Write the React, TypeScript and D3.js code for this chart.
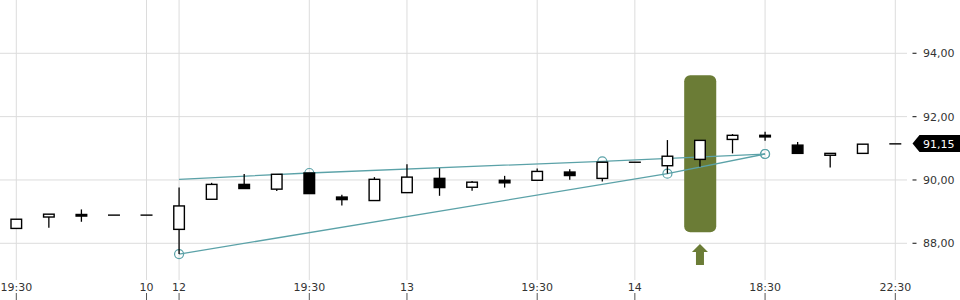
import React from "react";
import * as d3 from "d3";

const labels = ["19:30", "", "", "", "10", "12", "", "", "", "19:30", "", "", "13", "", "", "", "19:30", "", "", "14", "", "", "", "18:30", "", "", "", "22:30"];
const opens = [88.47, 88.83, 88.91, 88.89, 88.89, 88.44, 89.39, 89.86, 89.71, 90.22, 89.46, 89.35, 89.6, 90.05, 89.77, 89.99, 89.99, 90.25, 90.05, 90.56, 90.45, 90.65, 91.28, 91.41, 91.1, 90.78, 90.84, 91.14];
const highs = [88.76, 88.92, 89.07, 88.89, 88.89, 89.76, 89.91, 90.19, 90.18, 90.22, 89.53, 90.09, 90.5, 90.37, 89.97, 90.13, 90.36, 90.34, 90.56, 90.56, 91.26, 91.25, 91.45, 91.52, 91.2, 90.84, 91.13, 91.14];
const lows = [88.47, 88.49, 88.68, 88.89, 88.89, 87.66, 89.39, 89.73, 89.65, 89.57, 89.19, 89.35, 89.6, 89.5, 89.66, 89.76, 89.99, 90.01, 89.95, 90.56, 90.2, 90.42, 90.84, 91.24, 90.84, 90.39, 90.84, 91.14];
const closes = [88.76, 88.92, 88.86, 88.89, 88.89, 89.18, 89.86, 89.73, 90.18, 89.57, 89.38, 90.02, 90.09, 89.76, 89.93, 89.91, 90.27, 90.14, 90.56, 90.56, 90.75, 91.25, 91.41, 91.36, 90.84, 90.84, 91.13, 91.14];

const yTicks = [88, 90, 92, 94];
const lastPrice = 91.15;

const upperLineIdx = [5, 9, 18, 23];
const upperLineVal = [90.02, 90.22, 90.59, 90.82];
const upperCircles = [false, true, true, true];
const lowerLineIdx = [5, 20, 23];
const lowerLineVal = [87.66, 90.2, 90.82];

const signalIdx = 21;

const W = 960;
const H = 300;
const fmt = (v: number) => v.toFixed(2).replace(".", ",");

export default function App() {
  const idx = d3.range(opens.length);
  const x = d3.scalePoint<number>().domain(idx).range([16.3, 895.3]);
  const y = d3.scaleLinear().domain([88, 94]).range([243.3, 53.3]);
  const step = x.step();
  const bw = 10.6;
  const lineGen = d3
    .line<[number, number]>()
    .x((d) => x(d[0])!)
    .y((d) => y(d[1]));
  const upperPts: [number, number][] = upperLineIdx.map((d, i) => [d, upperLineVal[i]]);
  const lowerPts: [number, number][] = lowerLineIdx.map((d, i) => [d, lowerLineVal[i]]);
  const teal = "#5ba2a8";
  const green = "#6b7c36";
  const sx = x(signalIdx)!;
  const py = y(lastPrice);

  return (
    <div style={{ position: "absolute", left: 0, top: 0 }}>
      <svg width={W} height={H} style={{ display: "block", fontFamily: "'DejaVu Sans', sans-serif" }}>
        <rect x={0} y={0} width={W} height={H} fill="#fff" />
        {/* grid */}
        {yTicks.map((t) => (
          <line key={"h" + t} x1={0} x2={907} y1={y(t)} y2={y(t)} stroke="#dcdcdc" strokeWidth={1} />
        ))}
        {idx
          .filter((i) => labels[i] !== "")
          .map((i) => (
            <g key={"v" + i}>
              <line x1={x(i)} x2={x(i)} y1={0} y2={280} stroke="#dcdcdc" strokeWidth={1} />
              <line x1={x(i)} x2={x(i)} y1={293} y2={300} stroke="#555" strokeWidth={1} />
              <text x={x(i)} y={291} textAnchor="middle" fontSize={11} fill="#333">
                {labels[i]}
              </text>
            </g>
          ))}
        {/* y axis labels */}
        {yTicks.map((t) => (
          <g key={"yl" + t}>
            <line x1={912.5} x2={916.5} y1={y(t)} y2={y(t)} stroke="#333" strokeWidth={1.2} />
            <text x={923} y={y(t) + 4} fontSize={11} fill="#333">
              {fmt(t)}
            </text>
          </g>
        ))}
        {/* signal box */}
        <rect x={sx - step / 2 + 0.5} y={75.3} width={step - 0.5} height={157} rx={6} ry={6} fill={green} />
        <path
          d={`M${sx},244 L${sx + 8},252 L${sx + 4},252 L${sx + 4},265 L${sx - 4},265 L${sx - 4},252 L${sx - 8},252 Z`}
          fill={green}
        />
        {/* trend lines */}
        <path d={lineGen(upperPts)!} fill="none" stroke={teal} strokeWidth={1.3} />
        <path d={lineGen(lowerPts)!} fill="none" stroke={teal} strokeWidth={1.3} />
        {upperPts.map((p, i) =>
          upperCircles[i] ? (
            <circle key={"uc" + i} cx={x(p[0])} cy={y(p[1])} r={4.5} fill="none" stroke={teal} strokeWidth={1.2} />
          ) : null
        )}
        {lowerPts.map((p, i) => (
          <circle key={"lc" + i} cx={x(p[0])} cy={y(p[1])} r={4.5} fill="none" stroke={teal} strokeWidth={1.2} />
        ))}
        {/* candles */}
        {idx.map((i) => {
          const cx = x(i)!;
          const o = opens[i];
          const c = closes[i];
          const up = c >= o;
          const top = y(Math.max(o, c));
          const bot = y(Math.min(o, c));
          const flat = bot - top < 0.5;
          return (
            <g key={"c" + i}>
              {highs[i] !== lows[i] && (
                <line x1={cx} x2={cx} y1={y(highs[i])} y2={y(lows[i])} stroke="#000" strokeWidth={1.3} />
              )}
              {flat ? (
                <line x1={cx - bw / 2 - 0.7} x2={cx + bw / 2 + 0.7} y1={top} y2={top} stroke="#000" strokeWidth={1.4} />
              ) : (
                <rect
                  x={cx - bw / 2}
                  y={top}
                  width={bw}
                  height={bot - top}
                  fill={up ? "#fff" : "#000"}
                  stroke="#000"
                  strokeWidth={1.4}
                />
              )}
            </g>
          );
        })}
        {/* last price label */}
        <path
          d={`M912.5,${py} L919.5,${py - 8.5} L960,${py - 8.5} L960,${py + 8.5} L919.5,${py + 8.5} Z`}
          fill="#000"
        />
        <text x={923} y={py + 4} fontSize={11} fill="#fff">
          {fmt(lastPrice)}
        </text>
      </svg>
    </div>
  );
}
